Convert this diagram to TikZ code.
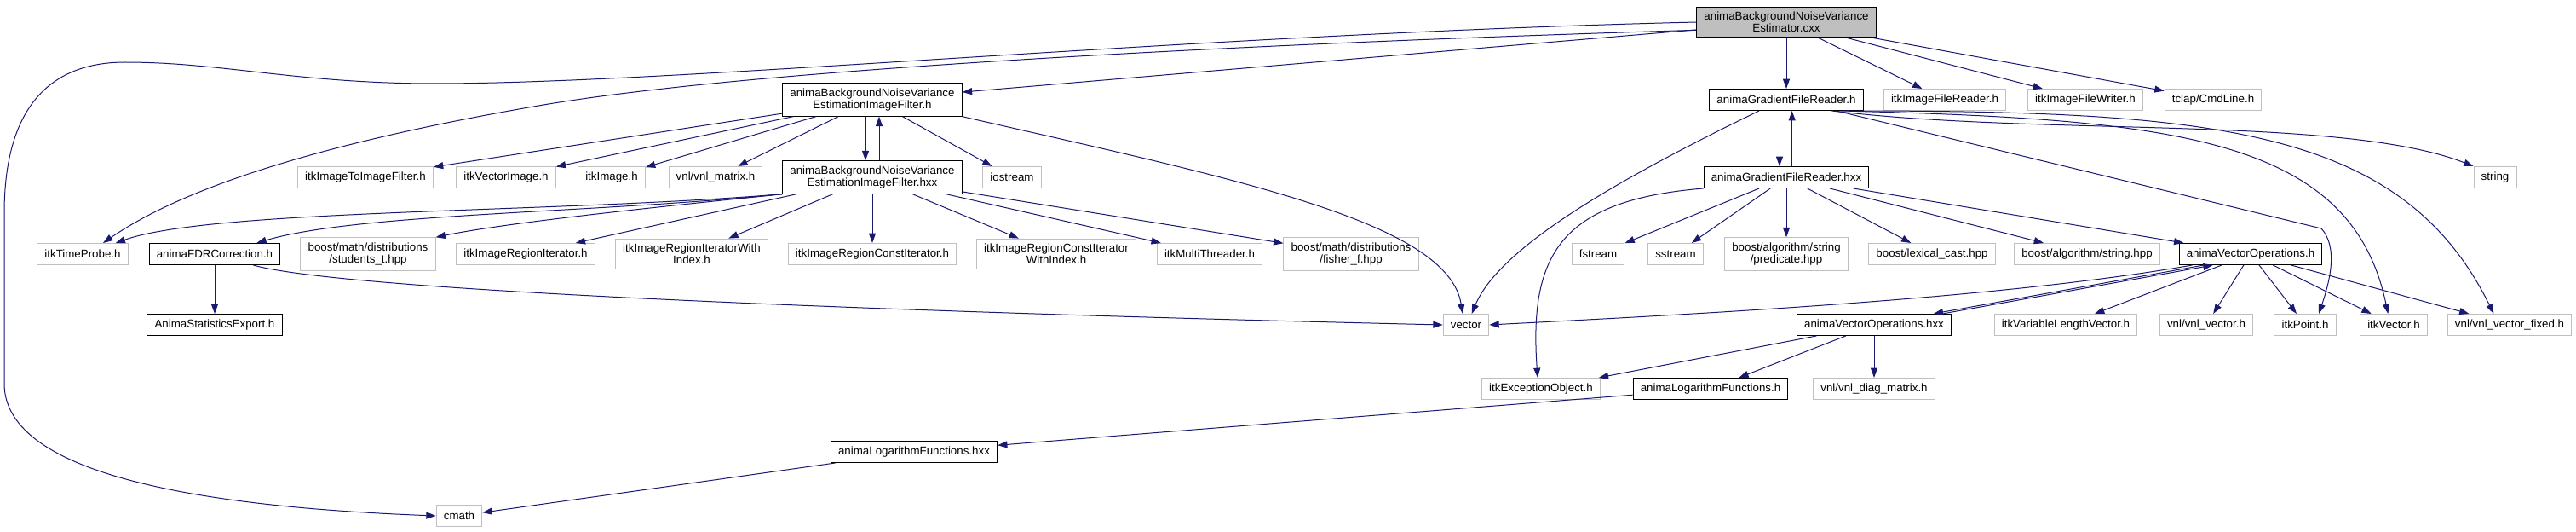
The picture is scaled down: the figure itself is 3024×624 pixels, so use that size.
\documentclass[tikz,border=0pt]{standalone}
\usepackage{fontspec}
\setmainfont{Liberation Sans}
\usepackage{xcolor}
\usepackage{tikz}
\usetikzlibrary{arrows.meta}

\definecolor{edgeblue}{HTML}{191970}
\definecolor{extgray}{HTML}{BFBFBF}

\begin{document}
\begin{tikzpicture}[x=0.75pt, y=-0.75pt, >={Triangle[length=8.5pt,width=6pt]},
    doc/.style={draw=black, line width=0.75pt, fill=white, align=center,
        font=\fontsize{10}{10.5}\selectfont, inner xsep=6.5pt, inner ysep=4.5pt,
        minimum height=18.75pt},
    ext/.style={doc, draw=extgray},
    root/.style={doc, fill=extgray},
    dep/.style={->, draw=edgeblue, line width=0.75pt}]
    \useasboundingbox (0,0) rectangle (3024,624);

    % Headers, top to bottom
    \node[root] (cxx) at (2097,26) {animaBackgroundNoiseVariance\\Estimator.cxx};

    \node[doc] (filterh) at (1024,117) {animaBackgroundNoiseVariance\\EstimationImageFilter.h};
    \node[doc] (gfrh) at (2097,117) {animaGradientFileReader.h};
    \node[ext] (ifreader) at (2283,117) {itkImageFileReader.h};
    \node[ext] (ifwriter) at (2448,117) {itkImageFileWriter.h};
    \node[ext] (cmdline) at (2598,117) {tclap/CmdLine.h};

    \node[ext] (itoif) at (429,208) {itkImageToImageFilter.h};
    \node[ext] (vecimage) at (594,208) {itkVectorImage.h};
    \node[ext] (itkimage) at (718,208) {itkImage.h};
    \node[ext] (vnlmatrix) at (840,208) {vnl/vnl\_matrix.h};
    \node[doc] (filterhxx) at (1024,208) {animaBackgroundNoiseVariance\\EstimationImageFilter.hxx};
    \node[ext] (iostream) at (1188,208) {iostream};
    \node[doc] (gfrhxx) at (2097,208) {animaGradientFileReader.hxx};
    \node[ext] (string) at (2929,208) {string};

    \node[ext] (timeprobe) at (97,298) {itkTimeProbe.h};
    \node[doc] (fdr) at (252,298) {animaFDRCorrection.h};
    \node[ext] (studentt) at (432,298) {boost/math/distributions\\/students\_t.hpp};
    \node[ext] (regit) at (617,298) {itkImageRegionIterator.h};
    \node[ext] (regitidx) at (812,298) {itkImageRegionIteratorWith\\Index.h};
    \node[ext] (regcit) at (1024,298) {itkImageRegionConstIterator.h};
    \node[ext] (regcitidx) at (1240,298) {itkImageRegionConstIterator\\WithIndex.h};
    \node[ext] (threader) at (1420,298) {itkMultiThreader.h};
    \node[ext] (fisherf) at (1586,298) {boost/math/distributions\\/fisher\_f.hpp};
    \node[ext] (fstream) at (1876,298) {fstream};
    \node[ext] (sstream) at (1967,298) {sstream};
    \node[ext] (predicate) at (2097,298) {boost/algorithm/string\\/predicate.hpp};
    \node[ext] (lexcast) at (2268,298) {boost/lexical\_cast.hpp};
    \node[ext] (algstring) at (2450,298) {boost/algorithm/string.hpp};
    \node[doc] (vecops) at (2642,298) {animaVectorOperations.h};

    \node[doc] (statexport) at (252,381) {AnimaStatisticsExport.h};
    \node[ext] (vector) at (1721,381) {vector};
    \node[doc] (vecopshxx) at (2200,381) {animaVectorOperations.hxx};
    \node[ext] (varlenvec) at (2425,381) {itkVariableLengthVector.h};
    \node[ext] (vnlvector) at (2590,381) {vnl/vnl\_vector.h};
    \node[ext] (itkpoint) at (2706,381) {itkPoint.h};
    \node[ext] (itkvector) at (2810,381) {itkVector.h};
    \node[ext] (vnlvecfixed) at (2946,381) {vnl/vnl\_vector\_fixed.h};

    \node[ext] (excobj) at (1809,456) {itkExceptionObject.h};
    \node[doc] (logfunc) at (2008,456) {animaLogarithmFunctions.h};
    \node[ext] (diagmatrix) at (2200,456) {vnl/vnl\_diag\_matrix.h};

    \node[doc] (logfunchxx) at (1073,530) {animaLogarithmFunctions.hxx};
    \node[ext] (cmath) at (539,605) {cmath};

    % Includes of the .cxx
    \draw[dep] (cxx.west) .. controls (1400,40) and (800,98) .. (510,98)
        .. controls (350,98) and (260,73) .. (147,73)
        .. controls (40,73) and (5,150) .. (5,250) -- (5,450)
        .. controls (5,560) and (250,595) .. (cmath.west);
    \draw[dep] ([yshift=-7pt]cxx.west) .. controls (1500,50) and (900,79) .. (638,123)
        .. controls (420,160) and (230,210) .. ([xshift=18pt]timeprobe.north);
    \draw[dep] (cxx) -- (filterh);
    \draw[dep] (cxx) -- (gfrh);
    \draw[dep] (cxx) -- (ifreader);
    \draw[dep] (cxx) -- (ifwriter);
    \draw[dep] (cxx) -- (cmdline);

    % Filter header
    \foreach \t in {itoif, vecimage, itkimage, vnlmatrix, iostream}
        \draw[dep] (filterh) -- (\t);
    \draw[dep] ([xshift=-6pt]filterh.south) -- ([xshift=-6pt]filterhxx.north);
    \draw[dep] ([xshift=6pt]filterhxx.north) -- ([xshift=6pt]filterh.south);
    \draw[dep] (filterh.south east) .. controls (1450,210) and (1700,260) .. ([xshift=-3pt]vector.north);

    % Filter implementation
    \draw[dep] (filterhxx.south west) .. controls (650,250) and (250,245) .. ([xshift=29pt]timeprobe.north);
    \draw[dep] (filterhxx.south west) .. controls (700,250) and (420,250) .. ([xshift=37pt]fdr.north);
    \draw[dep] (filterhxx.south west) .. controls (800,240) and (600,260) .. (studentt.north east);
    \foreach \t in {regit, regitidx, regcit, regcitidx, threader, fisherf}
        \draw[dep] (filterhxx) -- (\t);

    % FDR correction
    \draw[dep] (fdr) -- (statexport);
    \draw[dep] ([xshift=34pt]fdr.south) .. controls (400,340) and (1000,365) .. (vector.west);

    % Gradient file reader
    \draw[dep] ([xshift=-6pt]gfrh.south) -- ([xshift=-6pt]gfrhxx.north);
    \draw[dep] ([xshift=5pt]gfrhxx.north) -- ([xshift=5pt]gfrh.south);
    \draw[dep] ([xshift=-24pt]gfrh.south) .. controls (1900,210) and (1760,290) .. ([xshift=5pt]vector.north);
    \draw[dep] ([xshift=40pt]gfrh.south) .. controls (2400,160) and (2750,135) .. (string.north west);
    \draw[dep] ([xshift=44pt]gfrh.south) -- (2725,268) .. controls (2745,290) and (2735,330) .. ([xshift=12pt]itkpoint.north);
    \draw[dep] ([xshift=48pt]gfrh.south) .. controls (2550,140) and (2760,160) .. ([xshift=-5pt]itkvector.north);
    \draw[dep] ([xshift=52pt]gfrh.south) .. controls (2600,130) and (2820,150) .. ([xshift=-14pt]vnlvecfixed.north);

    \foreach \t in {fstream, sstream, predicate, lexcast, algstring, vecops}
        \draw[dep] (gfrhxx) -- (\t);
    \draw[dep] (gfrhxx.south west) .. controls (1830,235) and (1795,300) .. ([xshift=-3pt]excobj.north);

    % Vector operations
    \draw[dep] ([xshift=12pt]vecops.south west) .. controls (2350,350) and (2000,368) .. (vector.east);
    \draw[dep] ([xshift=22pt]vecops.south west) -- ([xshift=-16pt]vecopshxx.north east);
    \draw[dep] ([xshift=-8pt]vecopshxx.north east) -- ([xshift=30pt]vecops.south west);
    \foreach \t in {varlenvec, vnlvector, itkpoint, itkvector, vnlvecfixed}
        \draw[dep] (vecops) -- (\t);

    \foreach \t in {excobj, logfunc, diagmatrix}
        \draw[dep] (vecopshxx) -- (\t);

    % Logarithm functions
    \draw[dep] (logfunc) -- (logfunchxx);
    \draw[dep] (logfunchxx) -- (cmath);
\end{tikzpicture}
\end{document}
